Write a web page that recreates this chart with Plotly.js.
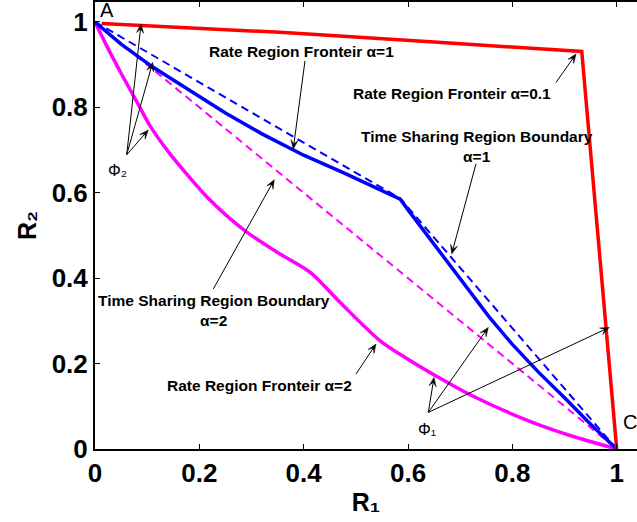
<!DOCTYPE html>
<html>
<head>
<meta charset="utf-8">
<script src="https://cdn.plot.ly/plotly-3.0.1.min.js"></script>
<style>html,body{margin:0;padding:0;background:#fff;overflow:hidden;}</style>
</head>
<body>
<div id="chart" style="width:637px;height:522px;"></div>
<script>
// Rate region frontier, alpha = 0.1 (red)
const redX = [0.0128, 0.355, 0.65, 0.933, 1.0];
const redY = [0.9967, 0.9757, 0.953, 0.931, 0.0];

// Rate region frontier, alpha = 1 (blue solid)
const blueX = [0, 0.05, 0.11, 0.18, 0.25, 0.32, 0.40, 0.48, 0.585, 0.60, 0.65, 0.70, 0.755, 0.80, 0.85, 0.90, 0.95, 1.0];
const blueY = [1, 0.948, 0.895, 0.84, 0.787, 0.738, 0.688, 0.645, 0.585, 0.56, 0.48, 0.40, 0.31, 0.245, 0.18, 0.12, 0.058, 0.0];

// Time sharing region boundary, alpha = 1 (blue dashed)
const blueTsX = [0, 0.585, 1.0];
const blueTsY = [1, 0.587, 0.0];

// Rate region frontier, alpha = 2 (magenta solid)
const magX = [0, 0.02, 0.05, 0.083, 0.105, 0.14, 0.182, 0.217, 0.25, 0.291, 0.35, 0.412, 0.47, 0.546, 0.60, 0.652, 0.719, 0.831, 0.92, 1.0];
const magY = [1, 0.95, 0.88, 0.807, 0.758, 0.697, 0.635, 0.587, 0.549, 0.508, 0.46, 0.414, 0.343, 0.254, 0.21, 0.172, 0.127, 0.066, 0.028, 0.0];

// Time sharing region boundary, alpha = 2 (magenta dashed)
const magTsX = [0, 1.0];
const magTsY = [1, 0.0];

// Axis ticks
const tickVals = [0, 0.2, 0.4, 0.6, 0.8, 1];
const tickText = ['0', '0.2', '0.4', '0.6', '0.8', '1'];

const FONT = 'Liberation Sans, Arial, Helvetica, sans-serif';
const X_RANGE = [0, 1.0389];
const Y_RANGE = [0, 1.0468];
const MARGIN = {l: 95, r: 0, t: 2, b: 73, pad: 0};
const W = 637, H = 522;
// pixels per data unit (for drawing arrowheads with correct proportions)
const SX = (W - MARGIN.l - MARGIN.r) / (X_RANGE[1] - X_RANGE[0]);
const SY = (H - MARGIN.t - MARGIN.b) / (Y_RANGE[1] - Y_RANGE[0]);

const traces = [
  {x: magTsX, y: magTsY, mode: 'lines', line: {color: '#ff00ff', width: 2, dash: '8px,5px'}, hoverinfo: 'skip'},
  {x: blueTsX, y: blueTsY, mode: 'lines', line: {color: '#0000ff', width: 2, dash: '8px,5px'}, hoverinfo: 'skip'},
  {x: magX, y: magY, mode: 'lines', line: {color: '#ff00ff', width: 3.5, shape: 'spline', smoothing: 0.8}, hoverinfo: 'skip'},
  {x: blueX, y: blueY, mode: 'lines', line: {color: '#0000ff', width: 3.5}, hoverinfo: 'skip'},
  {x: redX, y: redY, mode: 'lines', line: {color: '#ff0000', width: 3.5}, hoverinfo: 'skip'}
];

function label(x, y, text, size, bold) {
  return {x: x, y: y, xref: 'x', yref: 'y', text: text, showarrow: false,
    xanchor: 'center', yanchor: 'middle', align: 'center',
    font: {family: FONT, size: size, color: '#000', weight: bold ? 700 : 400}};
}

// arrow drawn as a shaft (line shape) and a barbed head (filled path shape)
function arrowShapes(tx, ty, hx, hy) {
  const L = 9, Wd = 3.6, notch = 0.55;
  const dx = (hx - tx) * SX, dy = (hy - ty) * SY;
  const len = Math.hypot(dx, dy);
  const ux = dx / len, uy = dy / len;
  const nx = -uy, ny = ux;
  const toData = (px, py) => [hx + px / SX, hy + py / SY];
  const b1 = toData(-L * ux + Wd * nx, -L * uy + Wd * ny);
  const b2 = toData(-L * ux - Wd * nx, -L * uy - Wd * ny);
  const nb = toData(-L * notch * ux, -L * notch * uy);
  return [
    {type: 'line', xref: 'x', yref: 'y', x0: tx, y0: ty, x1: nb[0], y1: nb[1],
     line: {color: '#000', width: 1}, layer: 'above'},
    {type: 'path', xref: 'x', yref: 'y', layer: 'above',
     path: `M${hx},${hy} L${b1[0]},${b1[1]} L${nb[0]},${nb[1]} L${b2[0]},${b2[1]} Z`,
     fillcolor: '#000', line: {color: '#000', width: 0.5}}
  ];
}

const annotations = [
  label(0.023, 1.0288, 'A', 20, false),
  label(1.0264, 0.064, 'C', 20, false),
  label(0.3958, 0.9304, 'Rate Region Fronteir α=1', 15.5, true),
  label(0.6849, 0.8314, 'Rate Region Fronteir α=0.1', 15.5, true),
  label(0.7326, 0.7091, 'Time Sharing Region Boundary<br>α=1', 15.5, true),
  label(0.2275, 0.3239, 'Time Sharing Region Boundary<br>α=2', 15.5, true),
  label(0.3147, 0.1482, 'Rate Region Fronteir α=2', 15.5, true),
  label(0.0422, 0.6518, 'Φ₂', 16, false),
  label(0.6368, 0.0452, 'Φ₁', 16, false)
];

const arrows = [
  [0.4025, 0.909, 0.380, 0.7026],
  [0.8837, 0.8585, 0.922, 0.925],
  [0.7303, 0.668, 0.6837, 0.4567],
  [0.2268, 0.3747, 0.3437, 0.6307],
  [0.5003, 0.1756, 0.5386, 0.2459],
  [0.0608, 0.689, 0.0882, 0.9953],
  [0.0608, 0.689, 0.1106, 0.9054],
  [0.0608, 0.689, 0.1022, 0.747],
  [0.6389, 0.0857, 0.6498, 0.1677],
  [0.6389, 0.0857, 0.7539, 0.2848],
  [0.6389, 0.0857, 0.9858, 0.2848]
];
const shapes = [];
arrows.forEach(a => shapes.push(...arrowShapes(a[0], a[1], a[2], a[3])));

const tickFont = {family: FONT, size: 26, color: '#000', weight: 700};
const titleFont = {family: FONT, size: 25, color: '#000', weight: 700};

const layout = {
  width: W, height: H,
  margin: MARGIN,
  paper_bgcolor: '#fff', plot_bgcolor: '#fff',
  showlegend: false,
  xaxis: {
    range: X_RANGE, tickvals: tickVals, ticktext: tickText,
    showgrid: false, zeroline: false, showline: true, linewidth: 2, linecolor: '#000',
    mirror: 'ticks', ticks: 'inside', ticklen: 5, tickwidth: 1, tickcolor: '#000',
    tickfont: tickFont,
    title: {text: 'R₁', font: titleFont, standoff: 6}
  },
  yaxis: {
    range: Y_RANGE, tickvals: tickVals, ticktext: tickText,
    showgrid: false, zeroline: false, showline: true, linewidth: 2, linecolor: '#000',
    mirror: false, ticks: 'inside', ticklen: 5, tickwidth: 1, tickcolor: '#000',
    tickfont: tickFont,
    title: {text: 'R₂', font: titleFont, standoff: 8}
  },
  annotations: annotations,
  shapes: shapes
};

Plotly.newPlot('chart', traces, layout, {staticPlot: true, displayModeBar: false});
</script>
</body>
</html>
